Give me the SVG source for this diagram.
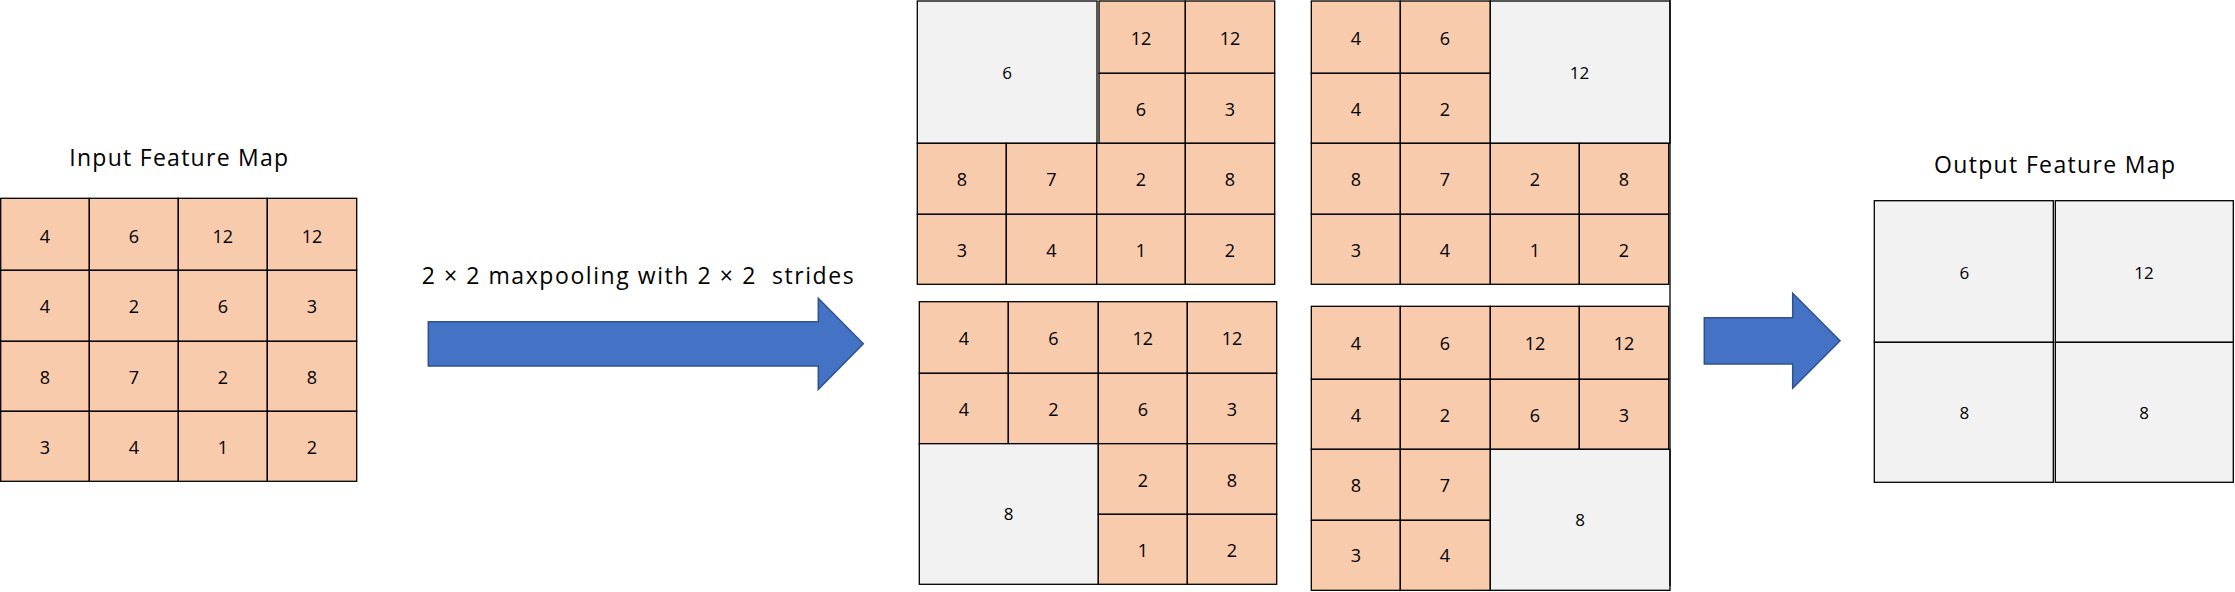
<svg xmlns="http://www.w3.org/2000/svg" width="2235" height="592" viewBox="0 0 2235 592">
<style>
.p{fill:#F8CBAD;stroke:#000;stroke-width:1.3}
.g{fill:#F2F2F2;stroke:#000;stroke-width:1.3}
.n{font-family:"Open Sans","Liberation Sans",sans-serif;font-size:18px;fill:#000;text-anchor:middle}
.ng{font-family:"Open Sans","Liberation Sans",sans-serif;font-size:17px;fill:#000;text-anchor:middle}
.ttl{font-family:"Open Sans","Liberation Sans",sans-serif;font-size:23px;fill:#000;text-anchor:middle}
.op{font-family:"Open Sans","Liberation Sans",sans-serif;font-size:23px;fill:#000;white-space:pre}
.arr{fill:#4472C4;stroke:#2F528F;stroke-width:1.5}
.ln{stroke:#000;stroke-width:1.3;fill:none}
</style>
<rect width="2235" height="592" fill="#fff"/>

<g id="input-map">
<text class="ttl" x="178.7" y="166" textLength="219">Input Feature Map</text>
<rect class="p" x="0.7" y="198.3" width="88.6" height="72"/>
<rect class="p" x="89.3" y="198.3" width="89" height="72"/>
<rect class="p" x="178.3" y="198.3" width="89" height="72"/>
<rect class="p" x="267.3" y="198.3" width="89.4" height="72"/>
<rect class="p" x="0.7" y="270.3" width="88.6" height="71"/>
<rect class="p" x="89.3" y="270.3" width="89" height="71"/>
<rect class="p" x="178.3" y="270.3" width="89" height="71"/>
<rect class="p" x="267.3" y="270.3" width="89.4" height="71"/>
<rect class="p" x="0.7" y="341.3" width="88.6" height="70"/>
<rect class="p" x="89.3" y="341.3" width="89" height="70"/>
<rect class="p" x="178.3" y="341.3" width="89" height="70"/>
<rect class="p" x="267.3" y="341.3" width="89.4" height="70"/>
<rect class="p" x="0.7" y="411.3" width="88.6" height="70"/>
<rect class="p" x="89.3" y="411.3" width="89" height="70"/>
<rect class="p" x="178.3" y="411.3" width="89" height="70"/>
<rect class="p" x="267.3" y="411.3" width="89.4" height="70"/>
<text class="n" x="45" y="242.5">4</text><text class="n" x="133.8" y="242.5">6</text><text class="n" x="222.8" y="242.5">12</text><text class="n" x="312" y="242.5">12</text>
<text class="n" x="45" y="313">4</text><text class="n" x="133.8" y="313">2</text><text class="n" x="222.8" y="313">6</text><text class="n" x="312" y="313">3</text>
<text class="n" x="45" y="384">8</text><text class="n" x="133.8" y="384">7</text><text class="n" x="222.8" y="384">2</text><text class="n" x="312" y="384">8</text>
<text class="n" x="45" y="454">3</text><text class="n" x="133.8" y="454">4</text><text class="n" x="222.8" y="454">1</text><text class="n" x="312" y="454">2</text>
</g>

<g id="connectors">
<text class="op" x="421.7" y="284" textLength="432" xml:space="preserve">2 × 2 maxpooling with 2 × 2  strides</text>
<polygon class="arr" points="428.3,321.7 818.3,321.7 818.3,298.3 863.3,343.7 818.3,389.3 818.3,366 428.3,366"/>
<polygon class="arr" points="1704.3,317.7 1792.7,317.7 1792.7,293.3 1840,340.7 1792.7,388.3 1792.7,364 1704.3,364"/>
</g>

<g id="window-top-left">
<rect class="g" x="917.3" y="1" width="179.7" height="142.3"/>
<rect class="p" x="1099" y="1" width="86.3" height="72.3"/>
<rect class="p" x="1185.3" y="1" width="89.4" height="72.3"/>
<rect class="p" x="1099" y="73.3" width="86.3" height="70"/>
<rect class="p" x="1185.3" y="73.3" width="89.4" height="70"/>
<rect class="p" x="917.3" y="143.3" width="89" height="71"/>
<rect class="p" x="1006.3" y="143.3" width="90.4" height="71"/>
<rect class="p" x="1096.7" y="143.3" width="88.6" height="71"/>
<rect class="p" x="1185.3" y="143.3" width="89.4" height="71"/>
<rect class="p" x="917.3" y="214.3" width="89" height="70"/>
<rect class="p" x="1006.3" y="214.3" width="90.4" height="70"/>
<rect class="p" x="1096.7" y="214.3" width="88.6" height="70"/>
<rect class="p" x="1185.3" y="214.3" width="89.4" height="70"/>
<text class="ng" x="1007" y="79.3">6</text>
<text class="n" x="1141" y="44.5">12</text><text class="n" x="1230" y="44.5">12</text>
<text class="n" x="1141" y="116">6</text><text class="n" x="1230" y="116">3</text>
<text class="n" x="961.8" y="186">8</text><text class="n" x="1051.3" y="186">7</text><text class="n" x="1141" y="186">2</text><text class="n" x="1230" y="186">8</text>
<text class="n" x="961.8" y="256.7">3</text><text class="n" x="1051.3" y="256.7">4</text><text class="n" x="1141" y="256.7">1</text><text class="n" x="1230" y="256.7">2</text>
</g>

<g id="window-top-right">
<rect class="p" x="1311.3" y="1" width="89" height="72.3"/>
<rect class="p" x="1400.3" y="1" width="90" height="72.3"/>
<rect class="p" x="1311.3" y="73.3" width="89" height="70"/>
<rect class="p" x="1400.3" y="73.3" width="90" height="70"/>
<rect class="g" x="1490.3" y="1" width="179.7" height="142.3"/>
<rect class="p" x="1311.3" y="143.3" width="89" height="71"/>
<rect class="p" x="1400.3" y="143.3" width="90" height="71"/>
<rect class="p" x="1490.3" y="143.3" width="89" height="71"/>
<rect class="p" x="1579.3" y="143.3" width="89.4" height="71"/>
<rect class="p" x="1311.3" y="214.3" width="89" height="70"/>
<rect class="p" x="1400.3" y="214.3" width="90" height="70"/>
<rect class="p" x="1490.3" y="214.3" width="89" height="70"/>
<rect class="p" x="1579.3" y="214.3" width="89.4" height="70"/>
<text class="n" x="1355.8" y="44.5">4</text><text class="n" x="1445" y="44.5">6</text>
<text class="n" x="1355.8" y="116">4</text><text class="n" x="1445" y="116">2</text>
<text class="ng" x="1579.5" y="79.3">12</text>
<text class="n" x="1355.8" y="186">8</text><text class="n" x="1445" y="186">7</text><text class="n" x="1535" y="186">2</text><text class="n" x="1624" y="186">8</text>
<text class="n" x="1355.8" y="256.7">3</text><text class="n" x="1445" y="256.7">4</text><text class="n" x="1535" y="256.7">1</text><text class="n" x="1624" y="256.7">2</text>
</g>

<g id="window-bottom-left">
<rect class="p" x="919.3" y="301.7" width="89" height="71.6"/>
<rect class="p" x="1008.3" y="301.7" width="90" height="71.6"/>
<rect class="p" x="1098.3" y="301.7" width="89" height="71.6"/>
<rect class="p" x="1187.3" y="301.7" width="89.4" height="71.6"/>
<rect class="p" x="919.3" y="373.3" width="89" height="70.4"/>
<rect class="p" x="1008.3" y="373.3" width="90" height="70.4"/>
<rect class="p" x="1098.3" y="373.3" width="89" height="70.4"/>
<rect class="p" x="1187.3" y="373.3" width="89.4" height="70.4"/>
<rect class="g" x="919.3" y="443.7" width="179" height="140.6"/>
<rect class="p" x="1098.3" y="443.7" width="89" height="70.6"/>
<rect class="p" x="1187.3" y="443.7" width="89.4" height="70.6"/>
<rect class="p" x="1098.3" y="514.3" width="89" height="70"/>
<rect class="p" x="1187.3" y="514.3" width="89.4" height="70"/>
<text class="n" x="963.8" y="345">4</text><text class="n" x="1053.3" y="345">6</text><text class="n" x="1142.8" y="345">12</text><text class="n" x="1232" y="345">12</text>
<text class="n" x="963.8" y="416">4</text><text class="n" x="1053.3" y="416">2</text><text class="n" x="1142.8" y="416">6</text><text class="n" x="1232" y="416">3</text>
<text class="ng" x="1008.7" y="520">8</text>
<text class="n" x="1142.8" y="486.7">2</text><text class="n" x="1232" y="486.7">8</text>
<text class="n" x="1142.8" y="557.3">1</text><text class="n" x="1232" y="557.3">2</text>
</g>

<g id="window-bottom-right">
<rect class="p" x="1311.3" y="306.3" width="89" height="73"/>
<rect class="p" x="1400.3" y="306.3" width="90" height="73"/>
<rect class="p" x="1490.3" y="306.3" width="89" height="73"/>
<rect class="p" x="1579.3" y="306.3" width="89.4" height="73"/>
<rect class="p" x="1311.3" y="379.3" width="89" height="70"/>
<rect class="p" x="1400.3" y="379.3" width="90" height="70"/>
<rect class="p" x="1490.3" y="379.3" width="89" height="70"/>
<rect class="p" x="1579.3" y="379.3" width="89.4" height="70"/>
<rect class="p" x="1311.3" y="449.3" width="89" height="71"/>
<rect class="p" x="1400.3" y="449.3" width="90" height="71"/>
<rect class="p" x="1311.3" y="520.3" width="89" height="70"/>
<rect class="p" x="1400.3" y="520.3" width="90" height="70"/>
<rect class="g" x="1490.3" y="449.3" width="179.7" height="141"/>
<text class="n" x="1355.8" y="350">4</text><text class="n" x="1445" y="350">6</text><text class="n" x="1535" y="350">12</text><text class="n" x="1624" y="350">12</text>
<text class="n" x="1355.8" y="421.7">4</text><text class="n" x="1445" y="421.7">2</text><text class="n" x="1535" y="421.7">6</text><text class="n" x="1624" y="421.7">3</text>
<text class="n" x="1355.8" y="491.7">8</text><text class="n" x="1445" y="491.7">7</text>
<text class="n" x="1355.8" y="562.3">3</text><text class="n" x="1445" y="562.3">4</text>
<text class="ng" x="1580" y="526">8</text>
<line class="ln" x1="1670" y1="0" x2="1670" y2="586"/>
</g>

<g id="output-map">
<text class="ttl" x="2054.5" y="173.3" textLength="241">Output Feature Map</text>
<rect class="g" x="1874.3" y="200.7" width="179" height="141.6"/>
<rect class="g" x="2055.3" y="200.7" width="178" height="141.6"/>
<rect class="g" x="1874.3" y="342.3" width="179" height="140"/>
<rect class="g" x="2055.3" y="342.3" width="178" height="140"/>
<text class="ng" x="1964.3" y="279.3">6</text><text class="ng" x="2144" y="279.3">12</text>
<text class="ng" x="1964.3" y="419.3">8</text><text class="ng" x="2144" y="419.3">8</text>
</g>
</svg>
